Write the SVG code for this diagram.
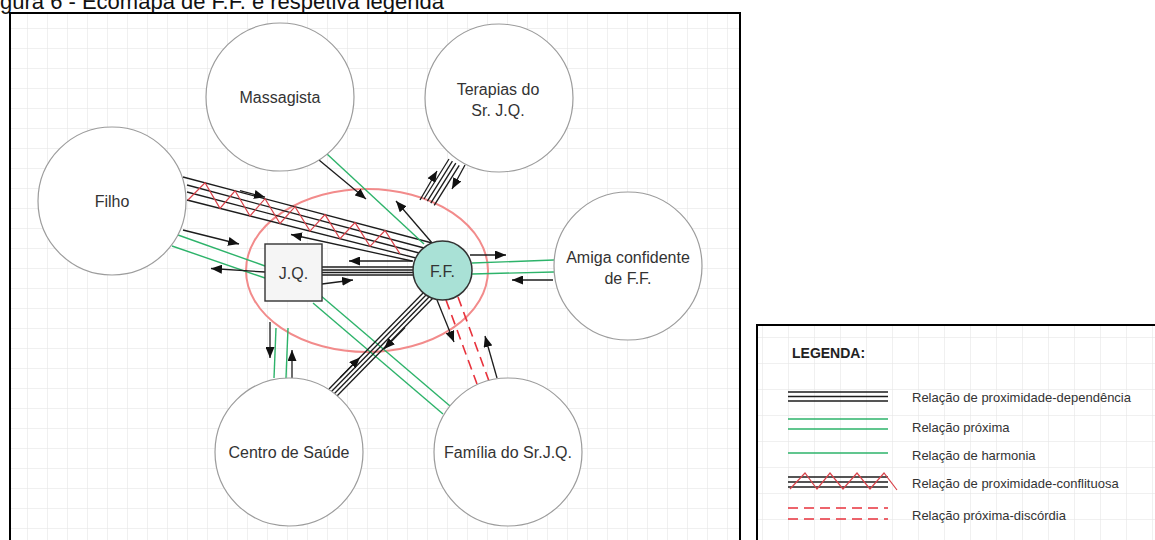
<svg xmlns="http://www.w3.org/2000/svg" width="1155" height="540" viewBox="0 0 1155 540">
  <defs>
    <style>
      .frame { fill: none; stroke: #000; stroke-width: 2; }
      .node { fill: #fff; stroke: #9c9c9c; stroke-width: 1.2; }
      .lbl { font-family: "Liberation Sans", Arial, sans-serif; font-size: 16px; fill: #333; text-anchor: middle; }
      .blk { stroke: #1c1c1c; stroke-width: 1.3; fill: none; }
      .arr { stroke: #1c1c1c; stroke-width: 1.3; fill: none; marker-end: url(#ah); }
      .grn { stroke: #2db36a; stroke-width: 1.4; fill: none; }
      .zz { stroke: #d8434a; stroke-width: 1.2; fill: none; stroke-linejoin: miter; }
      .dash { stroke: #e8323c; stroke-width: 1.6; stroke-dasharray: 10 6; fill: none; }
      .leg { font-family: "Liberation Sans", Arial, sans-serif; font-size: 13px; fill: #333; }
    </style>
    <marker id="ah" markerWidth="11" markerHeight="9" refX="11" refY="4.5" orient="auto" markerUnits="userSpaceOnUse">
      <path d="M0,0 L11,4.5 L0,9 Z" fill="#111"/>
    </marker>
    <pattern id="grid20" width="20" height="20" x="7" y="8" patternUnits="userSpaceOnUse">
      <path d="M20,0 H0 V20" fill="none" stroke="#e2e2e2" stroke-width="1"/>
    </pattern>
    <pattern id="grid26" width="26" height="26" x="8" y="-1" patternUnits="userSpaceOnUse">
      <path d="M26,0 H0 V26" fill="none" stroke="#e2e2e2" stroke-width="1"/>
    </pattern>
  </defs>

  <rect x="0" y="0" width="1155" height="540" fill="#fff"/>

  <!-- caption -->
  <text x="0" y="9" font-family="Liberation Sans, Arial, sans-serif" font-size="22" fill="#111">gura 6 - Ecomapa de F.F. e respetiva legenda</text>

  <!-- ecomap frame -->
  <rect x="10" y="13" width="730" height="540" fill="url(#grid20)"/>
  <rect class="frame" x="10" y="13" width="730" height="540"/>

  <!-- household boundary -->
  <g id="household">
    <ellipse cx="367" cy="270.5" rx="121" ry="81.5" fill="none" stroke="#f28b8b" stroke-width="2"/>
  </g>

  <g id="connectors">
    <!-- Filho - F.F. : proximity-conflict -->
    <line class="blk" x1="183" y1="177" x2="434" y2="243.5"/>
    <line class="blk" x1="187" y1="185" x2="426" y2="248.5"/>
    <line class="blk" x1="187" y1="192" x2="421" y2="253.5"/>
    <line class="blk" x1="187" y1="200" x2="418" y2="258.5"/>
    <path class="zz" d="M188,200 L205,182.8 L220,208.4 L235,190.8 L250,216 L265,198.7 L280,223.5 L295,206.7 L310,231.1 L325,214.6 L340,238.7 L355,222.6 L370,246.3 L385,230.5 L400,253.9"/>
    <line class="arr" x1="240" y1="190.6" x2="265" y2="197.2"/>
    <line class="arr" x1="412" y1="261" x2="291" y2="234.5"/>

    <!-- Massagista - F.F. -->
    <line class="grn" x1="327" y1="154" x2="424" y2="244"/>
    <line class="arr" x1="319" y1="160" x2="366" y2="199"/>
    <line class="arr" x1="433" y1="244" x2="396" y2="201"/>

    <!-- Terapias do Sr. J.Q. - F.F. : proximity-dependence -->
    <line class="blk" x1="424" y1="199" x2="449" y2="159"/>
    <line class="blk" x1="427.4" y1="201.1" x2="452.4" y2="161.1"/>
    <line class="blk" x1="430.8" y1="203.2" x2="455.8" y2="163.2"/>
    <line class="blk" x1="434.2" y1="205.3" x2="459.2" y2="165.3"/>
    <line class="arr" x1="420" y1="200" x2="437" y2="171"/>
    <line class="arr" x1="465" y1="165" x2="452" y2="189"/>

    <!-- J.Q. - F.F. : proximity-dependence -->
    <line class="blk" x1="322" y1="267" x2="414" y2="267"/>
    <line class="blk" x1="322" y1="270" x2="414" y2="270"/>
    <line class="blk" x1="322" y1="272.5" x2="414" y2="272.5"/>
    <line class="blk" x1="322" y1="275" x2="414" y2="275"/>
    <line class="arr" x1="413" y1="261" x2="349" y2="261"/>
    <line class="arr" x1="322" y1="284" x2="353" y2="280"/>

    <!-- Filho - J.Q. : close -->
    <line class="grn" x1="178" y1="235" x2="265" y2="266"/>
    <line class="grn" x1="172" y1="246" x2="265" y2="278"/>
    <line class="arr" x1="183" y1="230" x2="239" y2="244"/>
    <line class="arr" x1="265" y1="272" x2="211" y2="268.5"/>

    <!-- J.Q. - Centro de Saúde : close -->
    <line class="grn" x1="276" y1="328" x2="274" y2="378"/>
    <line class="grn" x1="288" y1="328" x2="286" y2="378"/>
    <line class="arr" x1="270" y1="322" x2="270" y2="358"/>
    <line class="arr" x1="292" y1="378" x2="292" y2="350"/>

    <!-- J.Q. - Família do Sr.J.Q. : close -->
    <line class="grn" x1="313" y1="303" x2="443" y2="414"/>
    <line class="grn" x1="320" y1="295" x2="450" y2="406"/>

    <!-- F.F. - Centro de Saúde : proximity-dependence -->
    <line class="blk" x1="329" y1="389" x2="425" y2="291"/>
    <line class="blk" x1="331.5" y1="391.5" x2="427.5" y2="293.5"/>
    <line class="blk" x1="334" y1="394" x2="430" y2="296"/>
    <line class="blk" x1="336.5" y1="396.5" x2="432.5" y2="298.5"/>
    <line class="arr" x1="340" y1="377.8" x2="360" y2="357.4"/>
    <line class="arr" x1="405" y1="327.5" x2="384" y2="349"/>

    <!-- F.F. - Família do Sr.J.Q. : close-discord -->
    <line class="dash" x1="446" y1="300" x2="477" y2="384"/>
    <line class="dash" x1="458" y1="297" x2="489" y2="381"/>
    <line class="arr" x1="437" y1="300" x2="454" y2="342"/>
    <line class="arr" x1="497" y1="378" x2="485" y2="336"/>

    <!-- F.F. - Amiga confidente : close -->
    <line class="grn" x1="472" y1="263" x2="554" y2="260"/>
    <line class="grn" x1="472" y1="274" x2="554" y2="272"/>
    <line class="arr" x1="470" y1="255" x2="506" y2="255"/>
    <line class="arr" x1="553" y1="280" x2="512" y2="280"/>
  </g>

  <g id="massagista">
    <circle class="node" cx="280" cy="97" r="74"/>
    <text class="lbl" x="280" y="103">Massagista</text>
  </g>
  <g id="terapias">
    <circle class="node" cx="499" cy="98" r="74"/>
    <text class="lbl" x="498" y="95">Terapias do</text>
    <text class="lbl" x="498" y="116">Sr. J.Q.</text>
  </g>
  <g id="filho">
    <circle class="node" cx="112" cy="201" r="74"/>
    <text class="lbl" x="112" y="207">Filho</text>
  </g>
  <g id="amiga">
    <circle class="node" cx="628" cy="266" r="74"/>
    <text class="lbl" x="628" y="263">Amiga confidente</text>
    <text class="lbl" x="628" y="284">de F.F.</text>
  </g>
  <g id="centro-saude">
    <circle class="node" cx="289" cy="452" r="74"/>
    <text class="lbl" x="289" y="458">Centro de Saúde</text>
  </g>
  <g id="familia">
    <circle class="node" cx="508" cy="452" r="74"/>
    <text class="lbl" x="508" y="458">Família do Sr.J.Q.</text>
  </g>
  <g id="jq">
    <rect x="265" y="244" width="57" height="57" fill="#f5f5f5" stroke="#333" stroke-width="1.4"/>
    <text class="lbl" x="293.5" y="279">J.Q.</text>
  </g>
  <g id="ff">
    <circle cx="442.5" cy="270.5" r="29.5" fill="#a9e1d6" stroke="#333" stroke-width="1.5"/>
    <text class="lbl" x="442.5" y="277">F.F.</text>
  </g>

  <!-- legend -->
  <g id="legend">
    <rect x="757" y="325" width="410" height="230" fill="url(#grid26)"/>
    <rect class="frame" x="757" y="325" width="410" height="230"/>
    <text x="792" y="358" font-family="Liberation Sans, Arial, sans-serif" font-size="14" font-weight="bold" fill="#222">LEGENDA:</text>

    <line stroke="#1c1c1c" stroke-width="1.6" x1="788" y1="392" x2="888" y2="392"/>
    <line stroke="#1c1c1c" stroke-width="1.6" x1="788" y1="396.5" x2="888" y2="396.5"/>
    <line stroke="#1c1c1c" stroke-width="1.6" x1="788" y1="401" x2="888" y2="401"/>
    <text class="leg" x="912" y="401.5">Relação de proximidade-dependência</text>

    <line class="grn" x1="788" y1="419" x2="888" y2="419"/>
    <line class="grn" x1="788" y1="429" x2="888" y2="429"/>
    <text class="leg" x="912" y="431.5">Relação próxima</text>

    <line class="grn" x1="788" y1="453" x2="888" y2="453"/>
    <text class="leg" x="912" y="460">Relação de harmonia</text>

    <line stroke="#1c1c1c" stroke-width="1.4" x1="788" y1="477" x2="888" y2="477"/>
    <line stroke="#1c1c1c" stroke-width="1.4" x1="788" y1="482" x2="888" y2="482"/>
    <line stroke="#1c1c1c" stroke-width="1.4" x1="788" y1="487" x2="888" y2="487"/>
    <path class="zz" stroke-width="1.5" d="M790,489 L805,473 L817,489 L830,473 L843,489 L857,473 L870,489 L884,473 L897,490"/>
    <text class="leg" x="912" y="487.5">Relação de proximidade-conflituosa</text>

    <line class="dash" x1="788" y1="508" x2="888" y2="508" stroke-dasharray="11 6.5"/>
    <line class="dash" x1="788" y1="519" x2="888" y2="519" stroke-dasharray="11 6.5"/>
    <text class="leg" x="912" y="519.5">Relação próxima-discórdia</text>
  </g>
</svg>
